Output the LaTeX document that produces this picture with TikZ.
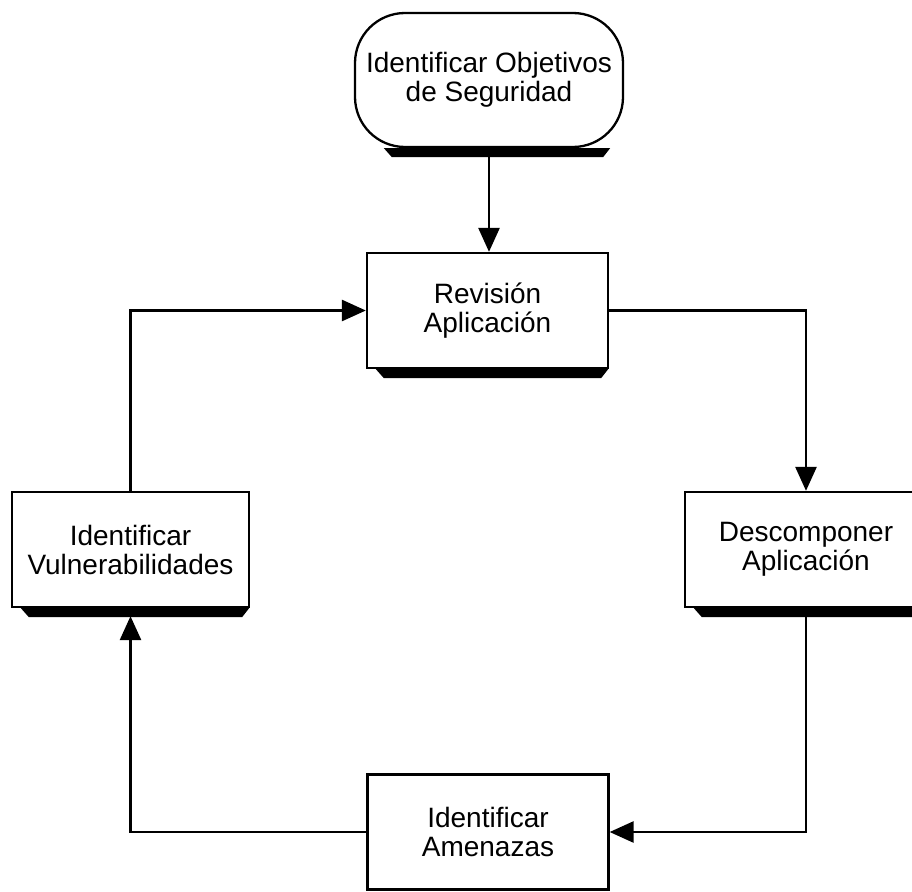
\documentclass[tikz,border=0pt]{standalone}
\usepackage{fontspec}
\setmainfont{Liberation Sans}
\usetikzlibrary{arrows.meta}
\tikzset{
  box/.style={draw=black, line width=2.3pt, fill=white, minimum width=241pt, minimum height=115pt,
    align=center, inner sep=0pt, font=\fontsize{28}{29}\selectfont},
  startbox/.style={box, rounded corners=50pt, minimum width=268pt, minimum height=134pt},
  conn/.style={line width=2.7pt, -{Triangle[length=24pt,width=21pt]}},
  shade/.style={fill=black}
}
\newcommand\shadowbar[3]{% node, left inset, right inset
  \fill[shade] ([xshift=#2pt]#1.south west) -- ([xshift=#2pt+8pt,yshift=-9pt]#1.south west)
    -- ([xshift=-#3pt-7pt,yshift=-9pt]#1.south east) -- ([xshift=-#3pt]#1.south east) -- cycle;}
\begin{document}
\begin{tikzpicture}[x=1pt,y=-1pt]
\useasboundingbox[fill=white] (0,0) rectangle (912,891);
% nodes
\node[startbox] (obj) at (489,80) {Identificar Objetivos\\de Seguridad};
\node[box] (rev) at (487.5,310.5) {Revisión\\Aplicación};
\node[box, minimum width=237pt] (vul) at (130.5,549.5) {Identificar\\Vulnerabilidades};
\node[box, minimum width=242pt] (dec) at (806,549.5) {Descomponer\\Aplicación};
\node[box] (ame) at (488,832) {Identificar\\Amenazas};
% shadows
\shadowbar{obj}{30}{14}
\shadowbar{rev}{10}{1}
\shadowbar{vul}{10}{1}
\shadowbar{dec}{10}{1}
% connectors
\draw[conn] (obj.south) -- (obj.south |- rev.north);
\draw[conn] (rev.east) -| (dec.north);
\draw[conn] (dec.south) |- (ame.east);
\draw[conn, shorten >=8pt] (ame.west) -| (vul.south);
\draw[conn] (vul.north) |- (rev.west);
\end{tikzpicture}
\end{document}
